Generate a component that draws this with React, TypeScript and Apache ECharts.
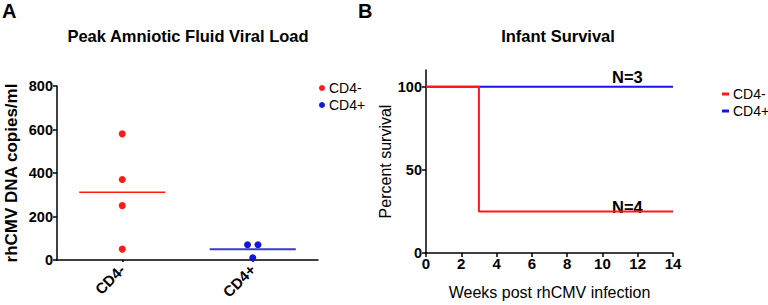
import React, { useEffect, useRef } from "react";
import * as echarts from "echarts";

// ---- Data ----
const groups = ["CD4-", "CD4+"];
const groupPos = [0.5, 1.5];
const cd4NegLoad = [580, 370, 250, 50];
const cd4NegX = [0.5, 0.5, 0.5, 0.5];
const cd4PosLoad = [70, 70, 10];
const cd4PosX = [1.46, 1.54, 1.5];
const groupMeans = [312, 50];
const loadTicks = [0, 200, 400, 600, 800];

const survWeeksNeg = [0, 3, 14];
const survNeg = [100, 25, 25];
const survWeeksPos = [0, 14];
const survPos = [100, 100];
const survTicks = [0, 50, 100];
const groupN = ["N=4", "N=3"];

const RED = "#ff1a1a";
const BLUE = "#1414e6";
const FONT = "'Liberation Sans', Arial, sans-serif";

export default function App() {
  const ref = useRef<HTMLDivElement>(null);

  useEffect(() => {
    if (!ref.current) return;
    const chart = echarts.init(ref.current, undefined, { renderer: "svg" });
    const halfW = 0.33;
    const option: any = {
      animation: false,
      textStyle: { fontFamily: FONT, color: "#000" },
      title: [
        {
          text: "Peak Amniotic Fluid Viral Load",
          left: 183,
          top: 22,
          textAlign: "center",
          textStyle: { fontFamily: FONT, fontSize: 16.5, fontWeight: "bold", color: "#000" },
        },
        {
          text: "Infant Survival",
          left: 553,
          top: 22,
          textAlign: "center",
          textStyle: { fontFamily: FONT, fontSize: 16.5, fontWeight: "bold", color: "#000" },
        },
      ],
      graphic: [
        { type: "text", left: 2, top: 1, style: { text: "A", font: `bold 20px ${FONT}`, fill: "#000" } },
        { type: "text", left: 358, top: 1, style: { text: "B", font: `bold 20px ${FONT}`, fill: "#000" } },
        { type: "text", left: 612, top: 68, style: { text: groupN[1], font: `bold 16.5px ${FONT}`, fill: "#000" } },
        { type: "text", left: 612, top: 198, style: { text: groupN[0], font: `bold 16.5px ${FONT}`, fill: "#000" } },
      ],
      legend: [
        {
          data: groups.map((g) => ({ name: g, icon: "circle" })),
          orient: "vertical",
          left: 314,
          top: 76,
          itemWidth: 6,
          itemHeight: 6,
          itemGap: 3,
          textStyle: { fontFamily: FONT, fontSize: 14, color: "#000", padding: [0, 0, 0, -1] },
          selectedMode: false,
        },
        {
          data: groups.map((g) => ({ name: g, icon: "rect" })),
          orient: "vertical",
          left: 717,
          top: 82,
          itemWidth: 7,
          itemHeight: 3,
          itemGap: 3,
          textStyle: { fontFamily: FONT, fontSize: 14, color: "#000", padding: [0, 0, 0, -1] },
          selectedMode: false,
        },
      ],
      grid: [
        { left: 57, right: 450, top: 86, bottom: 45, containLabel: false },
        { left: 426, right: 95, top: 70, bottom: 46, containLabel: false },
      ],
      xAxis: [
        {
          gridIndex: 0,
          type: "value",
          min: 0,
          max: 2,
          interval: 0.5,
          splitLine: { show: false },
          axisTick: { show: true, length: 2, customValues: groupPos, lineStyle: { color: "#000", width: 1.5 } },
          axisLine: { lineStyle: { color: "#000", width: 1.5 } },
          axisLabel: {
            rotate: 45,
            margin: 7,
            fontSize: 15,
            fontWeight: "bold",
            color: "#000",
            fontFamily: FONT,
            customValues: groupPos,
            formatter: (v: number) => {
              const i = groupPos.indexOf(v);
              return i >= 0 ? groups[i] : "";
            },
          },
        },
        {
          gridIndex: 1,
          type: "value",
          min: 0,
          max: 14,
          interval: 2,
          name: "Weeks post rhCMV infection",
          nameLocation: "middle",
          nameGap: 31,
          nameTextStyle: { fontFamily: FONT, fontSize: 16, color: "#000" },
          splitLine: { show: false },
          axisTick: { show: true, length: 4, lineStyle: { color: "#000", width: 1.5 } },
          axisLine: { lineStyle: { color: "#000", width: 1.5 } },
          axisLabel: { fontSize: 15, fontWeight: "bold", color: "#000", fontFamily: FONT, margin: 3 },
        },
      ],
      yAxis: [
        {
          gridIndex: 0,
          type: "value",
          min: loadTicks[0],
          max: loadTicks[loadTicks.length - 1],
          interval: 200,
          name: "rhCMV DNA copies/ml",
          nameLocation: "middle",
          nameGap: 37,
          nameTextStyle: { fontFamily: FONT, fontSize: 17, fontWeight: "bold", color: "#000" },
          splitLine: { show: false },
          axisTick: { show: true, length: 4, lineStyle: { color: "#000", width: 1.5 } },
          axisLine: { show: true, lineStyle: { color: "#000", width: 1.5 } },
          axisLabel: { fontSize: 14.5, fontWeight: "bold", color: "#000", fontFamily: FONT, margin: 4 },
        },
        {
          gridIndex: 1,
          type: "value",
          min: 0,
          max: 110,
          interval: 50,
          name: "Percent survival",
          nameLocation: "middle",
          nameGap: 28,
          nameTextStyle: { fontFamily: FONT, fontSize: 16, color: "#000" },
          splitLine: { show: false },
          axisTick: { show: true, length: 4, customValues: survTicks, lineStyle: { color: "#000", width: 1.5 } },
          axisLine: { show: true, lineStyle: { color: "#000", width: 1.5 } },
          axisLabel: { customValues: survTicks, fontSize: 14.5, fontWeight: "bold", color: "#000", fontFamily: FONT, margin: 4 },
        },
      ],
      series: [
        {
          name: "CD4- mean",
          type: "line",
          xAxisIndex: 0,
          yAxisIndex: 0,
          data: [
            [groupPos[0] - halfW, groupMeans[0]],
            [groupPos[0] + halfW, groupMeans[0]],
          ],
          symbol: "none",
          lineStyle: { color: RED, width: 1.5 },
          silent: true,
        },
        {
          name: "CD4+ mean",
          type: "line",
          xAxisIndex: 0,
          yAxisIndex: 0,
          data: [
            [groupPos[1] - halfW, groupMeans[1]],
            [groupPos[1] + halfW, groupMeans[1]],
          ],
          symbol: "none",
          lineStyle: { color: "#3a3ad0", width: 2 },
          silent: true,
        },
        {
          name: groups[0],
          type: "scatter",
          xAxisIndex: 0,
          yAxisIndex: 0,
          data: cd4NegLoad.map((v, i) => [cd4NegX[i], v]),
          symbol: "circle",
          symbolSize: 7,
          itemStyle: { color: RED, opacity: 1 },
        },
        {
          name: groups[1],
          type: "scatter",
          xAxisIndex: 0,
          yAxisIndex: 0,
          data: cd4PosLoad.map((v, i) => [cd4PosX[i], v]),
          symbol: "circle",
          symbolSize: 7,
          itemStyle: { color: BLUE, opacity: 1 },
        },
        {
          name: groups[1],
          type: "line",
          xAxisIndex: 1,
          yAxisIndex: 1,
          data: survWeeksPos.map((w, i) => [w, survPos[i]]),
          symbol: "none",
          lineStyle: { color: BLUE, width: 2 },
          itemStyle: { color: BLUE },
        },
        {
          name: groups[0],
          type: "line",
          xAxisIndex: 1,
          yAxisIndex: 1,
          step: "end",
          data: survWeeksNeg.map((w, i) => [w, survNeg[i]]),
          symbol: "none",
          lineStyle: { color: RED, width: 2 },
          itemStyle: { color: RED },
        },
      ],
    };
    chart.setOption(option);
    return () => chart.dispose();
  }, []);

  return (
    <div
      ref={ref}
      style={{ position: "fixed", left: 0, top: 0, width: 768, height: 305, background: "#fff" }}
    />
  );
}
